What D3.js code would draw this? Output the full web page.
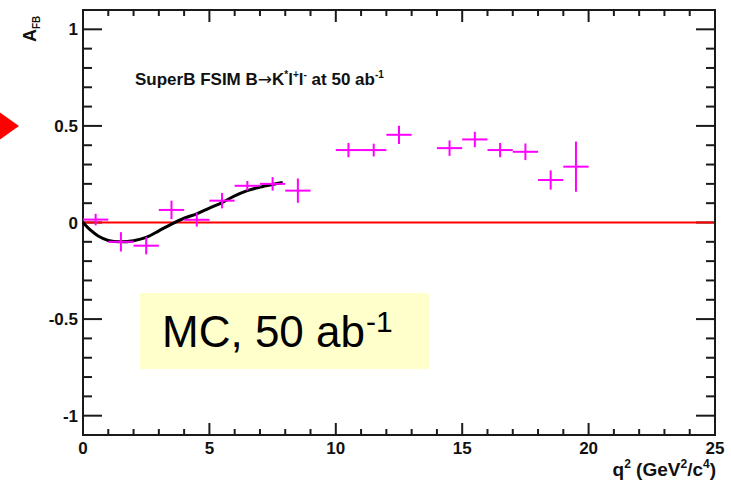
<!DOCTYPE html>
<html><head><meta charset="utf-8">
<script src="https://cdn.jsdelivr.net/npm/d3@7"></script>
<style>
html,body{margin:0;padding:0;background:#fff;}
svg{display:block;font-family:"Liberation Sans",Arial,sans-serif;}
</style></head>
<body>
<svg id="c" width="731" height="481"></svg>
<script>
// ---- data ----
const binCenters = [0.5,1.5,2.5,3.5,4.5,5.5,6.5,7.5,8.5,10.5,11.5,12.5,14.5,15.5,16.5,17.5,18.5,19.5];
const afbValues  = [0.015,-0.10,-0.12,0.065,0.014,0.113,0.19,0.20,0.165,0.375,0.375,0.454,0.385,0.43,0.375,0.366,0.22,0.289];
const afbErrors  = [0.03,0.05,0.045,0.048,0.035,0.04,0.025,0.035,0.063,0.037,0.033,0.047,0.04,0.04,0.037,0.043,0.05,0.13];
const binHalfWidth = 0.5;
const curveQ2  = [0,0.3,0.6,1.0,1.5,2.0,2.5,3.0,3.5,4.0,4.5,5.0,5.5,6.0,6.5,7.0,7.5,7.9];
const curveAfb = [0,-0.04,-0.07,-0.093,-0.1,-0.094,-0.077,-0.043,-0.008,0.022,0.045,0.075,0.103,0.138,0.165,0.183,0.197,0.207];
const xTickLabels = [0,5,10,15,20,25];
const yTickLabels = [-1,-0.5,0,0.5,1];

const svg = d3.select("#c");
const L=83, R=715, T=10, B=435;
const x = d3.scaleLinear().domain([0,25]).range([L,R]);
const y = d3.scaleLinear().domain([-1.1,1.1]).range([B,T]);
const axisCol = "#1a1a1a";

// red arrow marker at left
svg.append("path").attr("d","M-12,104 L19,126 L-12,148 Z").attr("fill","#ff0000");

// MC box
svg.append("rect").attr("x",140).attr("y",293).attr("width",289).attr("height",76).attr("fill","#ffffcc");
const mc = svg.append("text").attr("x",162).attr("y",347).attr("font-size",44).attr("fill","#000");
mc.append("tspan").text("MC, 50 ab");
mc.append("tspan").attr("font-size",30).attr("dx",1).attr("dy",-15).text("-1");

// ticks
const tg = svg.append("g").attr("stroke",axisCol).attr("stroke-width",2);
const yMinor = d3.range(-10,11).map(d=>d/10);
yMinor.forEach(v=>{
  const major = Math.abs(v*2 - Math.round(v*2))<1e-6;
  const len = major?19:9;
  tg.append("line").attr("x1",L).attr("x2",L+len).attr("y1",y(v)).attr("y2",y(v));
  tg.append("line").attr("x1",R).attr("x2",R-len).attr("y1",y(v)).attr("y2",y(v));
});
d3.range(0,26).forEach(v=>{
  const major = v%5===0;
  const len = major?12:6;
  tg.append("line").attr("x1",x(v)).attr("x2",x(v)).attr("y1",B).attr("y2",B-len);
  tg.append("line").attr("x1",x(v)).attr("x2",x(v)).attr("y1",T).attr("y2",T+len);
});

// zero line
svg.append("line").attr("x1",x(0)).attr("x2",x(25)).attr("y1",y(0)).attr("y2",y(0))
  .attr("stroke","#ff0000").attr("stroke-width",2);

// frame
svg.append("rect").attr("x",L).attr("y",T).attr("width",R-L).attr("height",B-T)
  .attr("fill","none").attr("stroke",axisCol).attr("stroke-width",2);

// tick labels
svg.append("g").selectAll("text").data(yTickLabels).join("text")
  .attr("x",L-5).attr("y",d=>y(d)+6).attr("text-anchor","end")
  .attr("font-size",17).attr("font-weight","bold").attr("fill","#111").text(d=>d);
svg.append("g").selectAll("text").data(xTickLabels).join("text")
  .attr("x",d=>x(d)).attr("y",454).attr("text-anchor","middle")
  .attr("font-size",17).attr("font-weight","bold").attr("fill","#111").text(d=>d);

// axis titles
const xt = svg.append("text").attr("x",R+1).attr("y",476).attr("text-anchor","end")
  .attr("font-size",19).attr("font-weight","bold").attr("fill","#111");
xt.append("tspan").text("q");
xt.append("tspan").attr("font-size",12).attr("dy",-8).text("2");
xt.append("tspan").attr("dy",8).text(" (GeV");
xt.append("tspan").attr("font-size",12).attr("dy",-8).text("2");
xt.append("tspan").attr("dy",8).text("/c");
xt.append("tspan").attr("font-size",12).attr("dy",-8).text("4");
xt.append("tspan").attr("dy",8).text(")");

const yt = svg.append("text").attr("transform","translate(36,42) rotate(-90)")
  .attr("font-size",18).attr("font-weight","bold").attr("fill","#111");
yt.append("tspan").text("A");
yt.append("tspan").attr("font-size",10).attr("dy",4).text("FB");

// title
const ti = svg.append("text").attr("x",135).attr("y",85)
  .attr("font-size",17).attr("font-weight","bold").attr("fill","#111");
ti.append("tspan").text("SuperB FSIM B");
ti.append("tspan").attr("font-family","DejaVu Sans").attr("font-weight","normal").text("\u2192");
ti.append("tspan").text("K");
ti.append("tspan").attr("font-size",10).attr("dy",-7).text("*");
ti.append("tspan").attr("dy",7).text("l");
ti.append("tspan").attr("font-size",10).attr("dy",-7).text("+");
ti.append("tspan").attr("dy",7).text("l");
ti.append("tspan").attr("font-size",10).attr("dy",-7).text("-");
ti.append("tspan").attr("dy",7).text(" at 50 ab");
ti.append("tspan").attr("font-size",10).attr("dy",-7).text("-1");

// curve
const curveData = curveQ2.map((q,i)=>[q,curveAfb[i]]);
svg.append("path").datum(curveData)
  .attr("d",d3.line().x(d=>x(d[0])).y(d=>y(d[1])).curve(d3.curveCatmullRom))
  .attr("fill","none").attr("stroke","#000").attr("stroke-width",3);

// data points
const pts = binCenters.map((q,i)=>({q,v:afbValues[i],e:afbErrors[i]}));
const pg = svg.append("g").attr("stroke","#ff00ff").attr("stroke-width",2);
pg.selectAll("line.h").data(pts).join("line").attr("class","h")
  .attr("x1",d=>x(d.q-binHalfWidth)).attr("x2",d=>x(d.q+binHalfWidth))
  .attr("y1",d=>y(d.v)).attr("y2",d=>y(d.v));
pg.selectAll("line.v").data(pts).join("line").attr("class","v")
  .attr("x1",d=>x(d.q)).attr("x2",d=>x(d.q))
  .attr("y1",d=>y(d.v-d.e)).attr("y2",d=>y(d.v+d.e));
</script>
</body></html>
